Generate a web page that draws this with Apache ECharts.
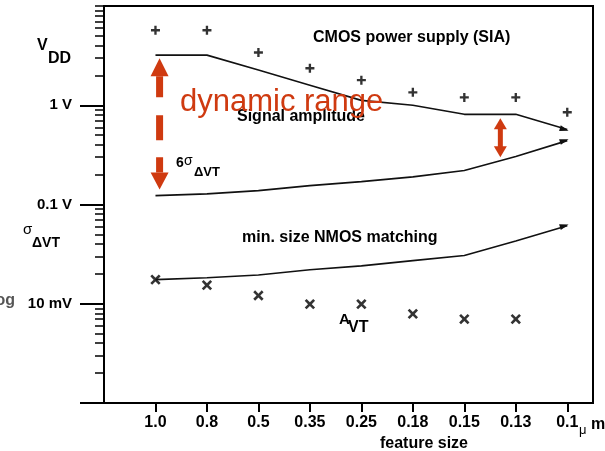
<!DOCTYPE html>
<html><head><meta charset="utf-8">
<script src="https://cdn.jsdelivr.net/npm/echarts@6/dist/echarts.min.js"></script>
<style>html,body{margin:0;padding:0;background:#fff}#c{width:605px;height:451px}</style>
</head><body><div id="c"></div>
<script>
// ---------- data ----------
const categories = ['1.0','0.8','0.5','0.35','0.25','0.18','0.15','0.13','0.1'];
const supplyVdd = [5.7, 5.7, 3.4, 2.36, 1.79, 1.35, 1.2, 1.2, 0.85];          // "+" markers (V)
const signalAmplitude = [3.2, 3.2, 2.26, 1.59, 1.12, 1.0, 0.81, 0.81, 0.57];  // line (V)
const sixSigma = [0.123, 0.128, 0.138, 0.155, 0.17, 0.19, 0.22, 0.305, 0.44]; // line (V)
const nmosMatching = [0.0175, 0.0183, 0.0195, 0.022, 0.0241, 0.0272, 0.0306, 0.0428, 0.0611]; // line (V)
const avt = [0.0175, 0.0154, 0.0121, 0.0099, 0.0099, 0.0079, 0.0070, 0.0070]; // "x" markers
const yTickValues = [0.001, 0.01, 0.1, 1];
const yTickLabels = ['', '10 mV', '0.1 V', '1 V'];
const dynRangeArrow = {x: 0.08, top: 2.98, bottom: 0.142};
const smallArrow = {x: 6.7, top: 0.74, bottom: 0.30};

// ---------- styling ----------
const FF = '"Liberation Sans", Arial, Helvetica, sans-serif';
const RED = '#cf3a10';
const PLUS = 'path://M3.7,0H6.3V3.7H10V6.3H6.3V10H3.7V6.3H0V3.7H3.7Z';
const CROSS = 'path://M3.9,0H6.1V3.9H10V6.1H6.1V10H3.9V6.1H0V3.9H3.9Z';
const ARROW = 'path://M0,0L10,5L0,10Z';

const minorTicks = [];
[0.001, 0.01, 0.1, 1].forEach(d => { for (let k = 2; k <= 9; k++) minorTicks.push(+(d * k).toPrecision(3)); });
minorTicks.push(10);

function lineData(arr, rot) {
  return arr.map((v, i) => i === arr.length - 1
    ? {value: [i, v], symbol: ARROW, symbolSize: [9, 6], symbolRotate: rot, symbolOffset: [-3, 0]}
    : [i, v]);
}
function yFmt(v) {
  for (let i = 0; i < yTickValues.length; i++) {
    if (Math.abs(Math.log10(v) - Math.log10(yTickValues[i])) < 1e-6) return yTickLabels[i];
  }
  return '';
}

const chart = echarts.init(document.getElementById('c'), null, {renderer: 'canvas'});
const lineStyle = {color: '#111', width: 1.6};
chart.setOption({
  backgroundColor: '#fff',
  animation: false,
  grid: {left: 104, right: 12, top: 6, bottom: 48, show: true, borderColor: '#000', borderWidth: 2, backgroundColor: 'transparent'},
  xAxis: {
    type: 'value', min: -1, max: 8.5, interval: 1,
    axisLine: {show: true, onZero: false, lineStyle: {color: '#000', width: 2}},
    axisTick: {show: true, length: 9, customValues: categories.map((c, i) => i), lineStyle: {color: '#000', width: 2}},
    axisLabel: {customValues: categories.map((c, i) => i), formatter: v => categories[Math.round(v)] || '',
      color: '#000', fontSize: 16, fontWeight: 'bold', fontFamily: FF, margin: 12},
    splitLine: {show: false}
  },
  yAxis: [{
    type: 'log', logBase: 10, min: 0.001, max: 10, position: 'left',
    axisLine: {show: true, onZero: false, lineStyle: {color: '#000', width: 2}},
    axisTick: {show: true, length: 24, customValues: yTickValues, lineStyle: {color: '#000', width: 2}},
    axisLabel: {formatter: yFmt, color: '#000', fontSize: 15, fontWeight: 'bold', fontFamily: FF, margin: 32},
    splitLine: {show: false}
  }, {
    type: 'log', logBase: 10, min: 0.001, max: 10, position: 'left', offset: 0,
    axisLine: {show: false, onZero: false},
    axisTick: {show: true, length: 9, customValues: minorTicks, lineStyle: {color: '#000', width: 1.5}},
    axisLabel: {show: false},
    splitLine: {show: false}
  }],
  series: [
    {type: 'line', name: 'signal', data: lineData(signalAmplitude, -16), symbol: 'none', showSymbol: true, lineStyle: lineStyle, itemStyle: {color: '#111'}},
    {type: 'line', name: 'six sigma', data: lineData(sixSigma, 17.5), symbol: 'none', showSymbol: true, lineStyle: lineStyle, itemStyle: {color: '#111'}},
    {type: 'line', name: 'nmos', data: lineData(nmosMatching, 17), symbol: 'none', showSymbol: true, lineStyle: lineStyle, itemStyle: {color: '#111'}},
    {type: 'scatter', name: 'VDD', data: supplyVdd.map((v, i) => [i, v]), symbol: PLUS, symbolSize: 9, itemStyle: {color: '#000'}},
    {type: 'scatter', name: 'AVT', data: avt.map((v, i) => [i, v]), symbol: CROSS, symbolSize: 12, symbolRotate: 45, itemStyle: {color: '#000'}}
  ]
});

function P(x, y) { return chart.convertToPixel({seriesIndex: 0}, [x, y]); }
function txt(text, x, y, size, opts) {
  opts = opts || {};
  return {type: 'text', x: x, y: y, z: 100, style: {text: text, fill: opts.fill || '#000',
    font: (opts.weight || 'bold') + ' ' + size + 'px ' + FF, align: opts.align || 'left', verticalAlign: 'middle'}};
}
const g = [];
// red dynamic range arrow
const a1 = P(dynRangeArrow.x, dynRangeArrow.top), a2 = P(dynRangeArrow.x, dynRangeArrow.bottom);
const ax = a1[0];
g.push({type: 'polygon', z: 90, shape: {points: [[ax, a1[1]], [ax - 9, a1[1] + 18], [ax + 9, a1[1] + 18]]}, style: {fill: RED}});
g.push({type: 'polygon', z: 90, shape: {points: [[ax, a2[1]], [ax - 9, a2[1] - 17], [ax + 9, a2[1] - 17]]}, style: {fill: RED}});
g.push({type: 'line', z: 90, shape: {x1: ax, y1: a1[1] + 18, x2: ax, y2: a2[1] - 17}, style: {stroke: RED, lineWidth: 7, lineDash: [21, 18, 25, 17]}});
// small double arrow
const b1 = P(smallArrow.x, smallArrow.top), b2 = P(smallArrow.x, smallArrow.bottom);
const bx = b1[0];
g.push({type: 'polygon', z: 90, shape: {points: [[bx, b1[1]], [bx - 6.5, b1[1] + 11], [bx + 6.5, b1[1] + 11]]}, style: {fill: RED}});
g.push({type: 'polygon', z: 90, shape: {points: [[bx, b2[1]], [bx - 6.5, b2[1] - 11], [bx + 6.5, b2[1] - 11]]}, style: {fill: RED}});
g.push({type: 'line', z: 90, shape: {x1: bx, y1: b1[1] + 10, x2: bx, y2: b2[1] - 10}, style: {stroke: RED, lineWidth: 5}});

// texts
g.push(txt('CMOS power supply (SIA)', 313, 38, 16));
g.push(txt('Signal amplitude', 237, 117, 16));
g.push(txt('dynamic range', 180, 102, 31, {weight: 'normal', fill: RED}));
g.push(txt('6', 176, 163, 14));
g.push(txt('σ', 184, 161, 14, {weight: 'normal'}));
g.push(txt('ΔVT', 194, 172, 13));
g.push(txt('min. size NMOS matching', 242, 238, 16));
g.push(txt('A', 339, 320, 15));
g.push(txt('VT', 348, 328, 16));
g.push(txt('V', 37, 46, 16));
g.push(txt('DD', 48, 59, 16));
g.push(txt('σ', 23, 230, 15, {weight: 'normal'}));
g.push(txt('ΔVT', 32, 243, 14));
g.push(txt('log', 15, 301, 16, {align: 'right', fill: '#555'}));
g.push(txt('feature size', 424, 444, 16, {align: 'center'}));
g.push(txt('μ', 579, 430, 13, {weight: 'normal'}));
g.push(txt('m', 591, 425, 16));
chart.setOption({graphic: g});
</script>
</body></html>
